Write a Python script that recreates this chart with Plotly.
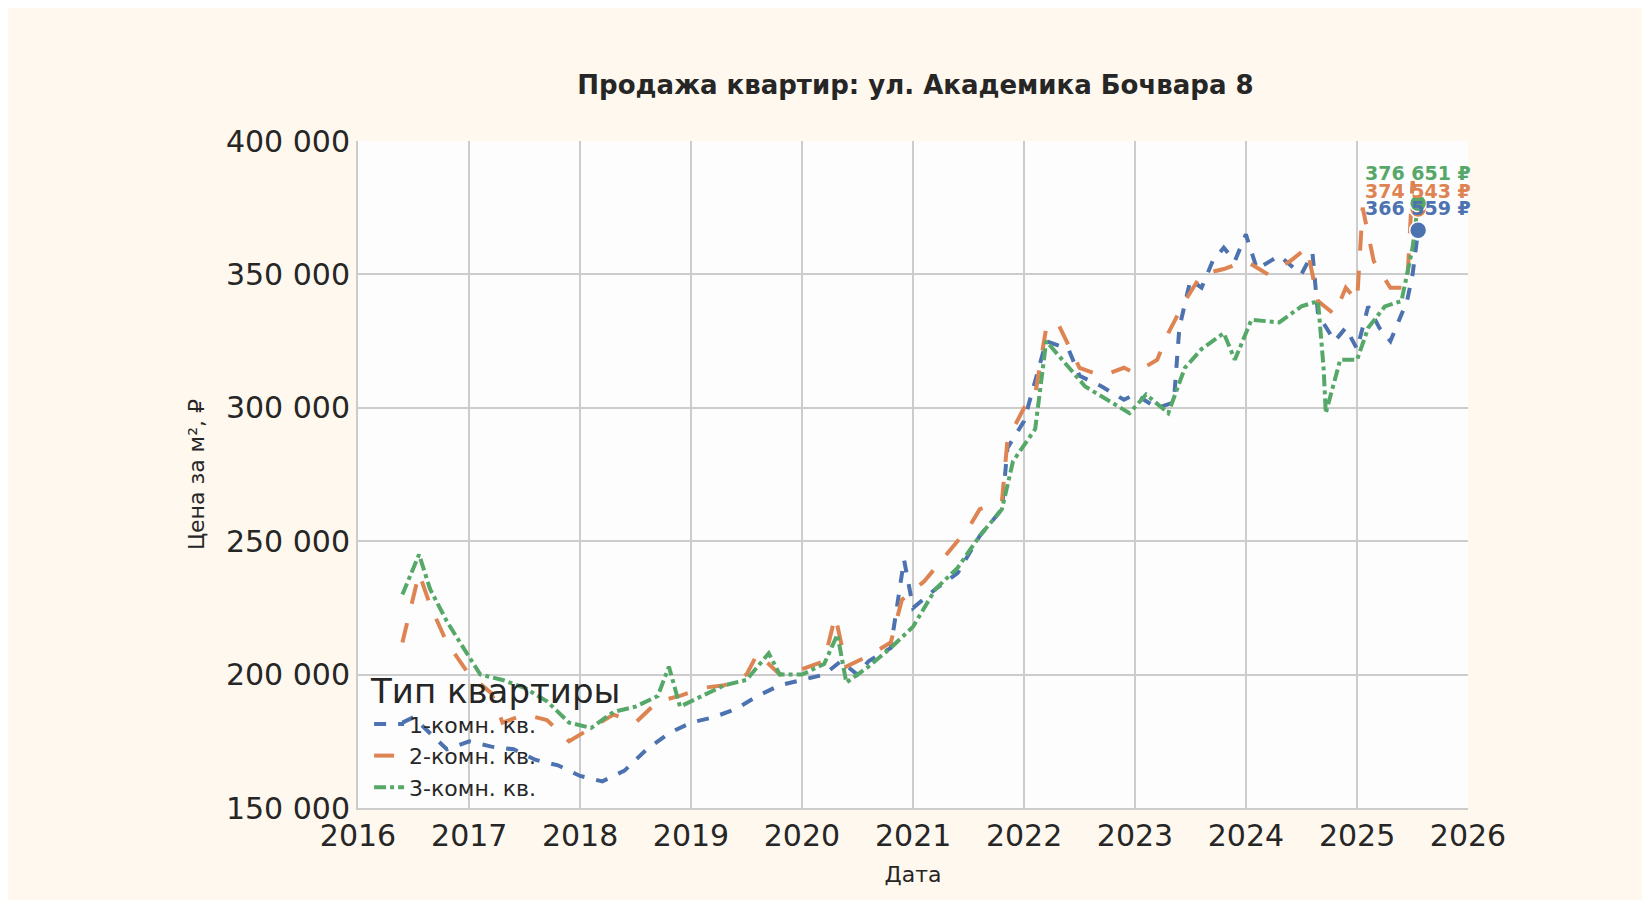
import plotly.graph_objects as go
import pandas as pd

names = ["1-комн. кв.", "2-комн. кв.", "3-комн. кв."]
colors = ["#4c72b0", "#dd8452", "#55a868"]
dashes = ["dash", "longdash", "dashdot"]

t1 = [2016.4,2016.5,2016.6,2016.8,2017.0,2017.2,2017.4,2017.6,2017.8,2018.0,2018.2,2018.4,2018.6,2018.8,2019.0,2019.2,2019.4,2019.6,2019.8,2020.0,2020.2,2020.35,2020.5,2020.6,2020.8,2020.92,2021.0,2021.2,2021.4,2021.6,2021.8,2021.85,2022.0,2022.1,2022.2,2022.4,2022.5,2022.7,2022.9,2023.0,2023.2,2023.35,2023.4,2023.5,2023.6,2023.7,2023.8,2023.9,2024.0,2024.1,2024.3,2024.5,2024.6,2024.65,2024.8,2024.9,2025.0,2025.1,2025.2,2025.3,2025.45,2025.5,2025.55]
v1 = [182,184,180,172,175,173,172,168,166,162,160,164,172,178,182,184,187,192,196,198,200,205,200,205,210,243,225,232,238,252,262,285,295,310,325,322,312,308,303,305,300,302,330,348,345,355,360,355,365,352,357,350,358,335,325,330,322,338,330,325,340,350,366.559]

t2 = [2016.4,2016.5,2016.55,2016.65,2016.8,2017.0,2017.2,2017.3,2017.5,2017.7,2017.9,2018.1,2018.3,2018.5,2018.7,2018.9,2019.1,2019.3,2019.5,2019.6,2019.8,2020.0,2020.2,2020.3,2020.4,2020.6,2020.8,2020.9,2021.1,2021.3,2021.5,2021.6,2021.8,2021.85,2022.0,2022.1,2022.2,2022.3,2022.5,2022.7,2022.9,2023.0,2023.2,2023.3,2023.45,2023.6,2023.8,2024.0,2024.2,2024.4,2024.55,2024.65,2024.8,2024.9,2025.0,2025.05,2025.15,2025.3,2025.45,2025.5,2025.55]
v2 = [212,230,238,226,212,200,193,182,185,183,175,180,185,182,190,192,195,196,200,208,200,202,205,222,203,207,212,228,235,245,255,262,265,288,300,305,330,332,315,312,315,313,318,328,340,350,352,355,350,355,360,340,335,345,340,375,355,345,345,385,374.543]

t3 = [2016.4,2016.55,2016.65,2016.8,2016.95,2017.1,2017.3,2017.5,2017.7,2017.9,2018.1,2018.3,2018.5,2018.7,2018.8,2018.9,2019.1,2019.3,2019.5,2019.7,2019.8,2020.0,2020.2,2020.32,2020.4,2020.6,2020.8,2021.0,2021.2,2021.4,2021.6,2021.8,2021.9,2022.1,2022.2,2022.4,2022.55,2022.75,2022.95,2023.1,2023.3,2023.45,2023.6,2023.8,2023.9,2024.05,2024.3,2024.5,2024.65,2024.7,2024.72,2024.85,2025.0,2025.1,2025.25,2025.4,2025.5,2025.55]
v3 = [230,245,232,220,210,200,198,195,190,182,180,186,188,192,203,188,192,196,198,208,200,200,204,215,197,203,210,218,232,240,252,262,280,292,325,315,308,303,298,305,298,315,322,328,318,333,332,338,340,315,298,318,318,330,338,340,360,376.651]

def to_dates(ts):
    return [pd.Timestamp(int(t), 1, 1) + pd.Timedelta(days=(t - int(t)) * 365.25) for t in ts]

fig = go.Figure()
series = [(t1, v1), (t2, v2), (t3, v3)]
for i, (t, v) in enumerate(series):
    d = to_dates(t)
    y = [x * 1000 for x in v]
    fig.add_trace(go.Scatter(x=d, y=y, mode="lines", name=names[i],
                             line=dict(color=colors[i], width=4, dash=dashes[i])))
offsets = [22, 18, 30]
for i, (t, v) in enumerate(series):
    d = to_dates(t)[-1]
    y = v[-1] * 1000
    fig.add_trace(go.Scatter(x=[d], y=[y], mode="markers", showlegend=False,
                             marker=dict(color=colors[i], size=17, line=dict(color="white", width=1.5))))
    lab = f"{int(round(v[-1]*1000)):,}".replace(",", " ") + " ₽"
    fig.add_annotation(x=d, y=y, text=f"<b>{lab}</b>", showarrow=False,
                       yshift=offsets[i], font=dict(color=colors[i], size=19, family="DejaVu Sans"))

fig.update_layout(
    width=1650, height=900,
    paper_bgcolor="#fff8ee", plot_bgcolor="#fdfdfd",
    margin=dict(l=350, r=190, t=133, b=100),
    title=dict(text="<b>Продажа квартир: ул. Академика Бочвара 8</b>", x=0.55, xanchor="center", y=0.925,
               font=dict(size=26, family="DejaVu Sans", color="#262626")),
    font=dict(family="DejaVu Sans", color="#262626"),
    legend=dict(x=0.01, y=0.0, xanchor="left", yanchor="bottom", bgcolor="rgba(0,0,0,0)",
                title=dict(text="Тип квартиры", font=dict(size=34)), font=dict(size=22)),
)
fig.update_xaxes(range=["2016-01-01", "2026-01-01"], dtick="M12", tickformat="%Y",
                 showgrid=True, gridcolor="#cccccc", gridwidth=2, tickfont=dict(size=30),
                 title=dict(text="Дата", font=dict(size=22)), showline=True, linecolor="#cccccc", linewidth=2)
fig.update_yaxes(range=[150000, 400000], dtick=50000, tickformat=",d",
                 showgrid=True, gridcolor="#cccccc", gridwidth=2, tickfont=dict(size=30),
                 title=dict(text="Цена за м², ₽", font=dict(size=22)), showline=True, linecolor="#cccccc", linewidth=2)
fig.update_layout(separators=". ")
fig.write_html("out.html")
